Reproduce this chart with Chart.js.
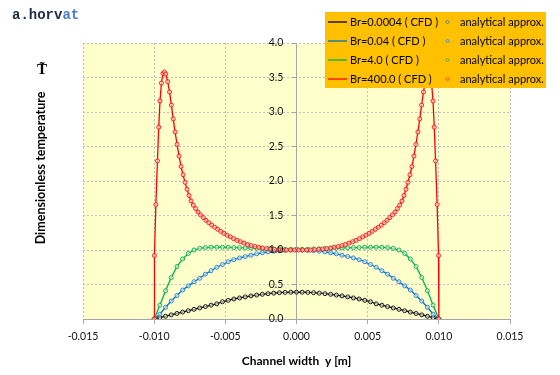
<!DOCTYPE html>
<html>
<head>
<meta charset="utf-8">
<script src="https://cdn.jsdelivr.net/npm/chart.js@4"></script>
<style>
  html, body { margin: 0; padding: 0; background: #fff; }
</style>
</head>
<body>
<canvas id="chart" width="560" height="375"></canvas>
<script>
// channel positions of the analytical points, y [m]
const yPos = [-0.0100, -0.0096, -0.0092, -0.0088, -0.0084, -0.0080, -0.0076, -0.0072, -0.0068, -0.0064,
  -0.0060, -0.0056, -0.0052, -0.0048, -0.0044, -0.0040, -0.0036, -0.0032, -0.0028, -0.0024,
  -0.0020, -0.0016, -0.0012, -0.0008, -0.0004, 0.0000, 0.0004, 0.0008, 0.0012, 0.0016,
  0.0020, 0.0024, 0.0028, 0.0032, 0.0036, 0.0040, 0.0044, 0.0048, 0.0052, 0.0056,
  0.0060, 0.0064, 0.0068, 0.0072, 0.0076, 0.0080, 0.0084, 0.0088, 0.0092, 0.0096, 0.0100];

// Br=400 is sampled finer near the walls
const yPosBr400 = [-0.01000, -0.00998, -0.00988, -0.00977, -0.00968, -0.00959, -0.00949, -0.00938, -0.00928, -0.00918,
  -0.00905, -0.00892, -0.00879, -0.00866, -0.00853, -0.00839, -0.00825, -0.00811, -0.00797, -0.00783,
  -0.00769, -0.00755, -0.00741, -0.00725, -0.00709, -0.00692, -0.00674, -0.00655, -0.00636, -0.00616,
  -0.00596, -0.00575, -0.00554, -0.00532, -0.00510, -0.00488, -0.00465, -0.00442, -0.00418, -0.00394,
  -0.00369, -0.00344, -0.00318, -0.00292, -0.00265, -0.00238, -0.00211, -0.00183, -0.00155, -0.00127,
  -0.00099, -0.00071, -0.00043, -0.00015, 0.00015, 0.00043, 0.00071, 0.00099, 0.00127, 0.00155,
  0.00183, 0.00211, 0.00238, 0.00265, 0.00292, 0.00318, 0.00344, 0.00369, 0.00394, 0.00418,
  0.00442, 0.00465, 0.00488, 0.00510, 0.00532, 0.00554, 0.00575, 0.00596, 0.00616, 0.00636,
  0.00655, 0.00674, 0.00692, 0.00709, 0.00725, 0.00741, 0.00755, 0.00769, 0.00783, 0.00797,
  0.00811, 0.00825, 0.00839, 0.00853, 0.00866, 0.00879, 0.00892, 0.00905, 0.00918, 0.00928,
  0.00938, 0.00949, 0.00959, 0.00968, 0.00977, 0.00988, 0.00998, 0.01000];

// dimensionless temperature
const tBr00004 = [0, 0.02, 0.04, 0.06, 0.08, 0.10, 0.12, 0.14, 0.16, 0.18,
  0.20, 0.22, 0.25, 0.27, 0.29, 0.305, 0.32, 0.335, 0.347, 0.358,
  0.367, 0.375, 0.381, 0.385, 0.388, 0.389, 0.388, 0.385, 0.381, 0.375,
  0.367, 0.358, 0.347, 0.335, 0.32, 0.305, 0.29, 0.27, 0.25, 0.22,
  0.20, 0.18, 0.16, 0.14, 0.12, 0.10, 0.08, 0.06, 0.04, 0.02, 0];

const tBr004 = [0, 0.07, 0.17, 0.26, 0.34, 0.42, 0.48, 0.54, 0.59, 0.65,
  0.70, 0.75, 0.79, 0.83, 0.86, 0.885, 0.905, 0.925, 0.945, 0.96,
  0.973, 0.983, 0.99, 0.995, 0.998, 1.0, 0.998, 0.995, 0.99, 0.983,
  0.973, 0.96, 0.945, 0.925, 0.905, 0.885, 0.86, 0.83, 0.79, 0.75,
  0.70, 0.65, 0.59, 0.54, 0.48, 0.42, 0.34, 0.26, 0.17, 0.07, 0];

const tBr4 = [0, 0.20, 0.41, 0.60, 0.76, 0.87, 0.95, 1.00, 1.025, 1.035,
  1.04, 1.04, 1.04, 1.04, 1.035, 1.035, 1.03, 1.03, 1.025, 1.02,
  1.02, 1.015, 1.015, 1.01, 1.01, 1.01, 1.01, 1.01, 1.015, 1.015,
  1.02, 1.02, 1.025, 1.03, 1.03, 1.035, 1.035, 1.04, 1.04, 1.04,
  1.04, 1.035, 1.025, 1.00, 0.95, 0.87, 0.76, 0.60, 0.41, 0.20, 0];

const tBr400 = [0, 0.92, 1.66, 2.29, 2.78, 3.16, 3.42, 3.56, 3.58, 3.55,
  3.44, 3.29, 3.10, 2.90, 2.71, 2.53, 2.36, 2.21, 2.09, 1.98,
  1.88, 1.79, 1.71, 1.65, 1.60, 1.55, 1.51, 1.47, 1.43, 1.395,
  1.36, 1.33, 1.30, 1.27, 1.24, 1.215, 1.19, 1.165, 1.14, 1.12,
  1.10, 1.08, 1.065, 1.05, 1.04, 1.03, 1.02, 1.015, 1.01, 1.005,
  1.0, 1.0, 1.0, 1.0, 1.0, 1.0, 1.0, 1.0, 1.005, 1.01,
  1.015, 1.02, 1.03, 1.04, 1.05, 1.065, 1.08, 1.10, 1.12, 1.14,
  1.165, 1.19, 1.215, 1.24, 1.27, 1.30, 1.33, 1.36, 1.395, 1.43,
  1.47, 1.51, 1.55, 1.60, 1.65, 1.71, 1.79, 1.88, 1.98, 2.09,
  2.21, 2.36, 2.53, 2.71, 2.90, 3.10, 3.29, 3.44, 3.55, 3.58,
  3.56, 3.42, 3.16, 2.78, 2.29, 1.66, 0.92, 0];

const seriesLabels = ["Br=0.0004 ( CFD )", "Br=0.04 ( CFD )", "Br=4.0 ( CFD )", "Br=400.0 ( CFD )"];
const approxLabel = "analytical approx.";
const xTickLabels = ["-0.015", "-0.010", "-0.005", "0.000", "0.005", "0.010", "0.015"];

const lineColors = ["#000000", "#0070C0", "#00B050", "#FF0000"];
const markColors = ["#1a1a1a", "#2E86D6", "#1DB152", "#FF1a1a"];
const legendMarkColors = ["#7f7f7f", "#4F8FD0", "#6AAE3A", "#FF5A1F"];

const toPoints = (xs, ts) => xs.map((x, i) => ({ x: x, y: ts[i] }));
const seriesData = [
  toPoints(yPos, tBr00004),
  toPoints(yPos, tBr004),
  toPoints(yPos, tBr4),
  toPoints(yPosBr400, tBr400)
];

const datasets = [];
seriesData.forEach((pts, i) => {
  datasets.push({
    label: seriesLabels[i],
    data: pts,
    showLine: true,
    borderColor: lineColors[i],
    borderWidth: 1.3,
    pointRadius: 0,
    order: 7 - i * 2
  });
  datasets.push({
    label: approxLabel,
    data: pts,
    showLine: false,
    pointRadius: 2,
    pointBorderWidth: 1,
    pointBorderColor: markColors[i],
    pointBackgroundColor: "rgba(255,255,240,0.6)",
    order: 6 - i * 2
  });
});

const decor = {
  id: "decor",
  beforeDraw(chart) {
    const { ctx, chartArea: a } = chart;
    ctx.save();
    ctx.fillStyle = "#fff";
    ctx.fillRect(0, 0, chart.width, chart.height);
    ctx.fillStyle = "#FFFFCC";
    ctx.fillRect(a.left, a.top, a.right - a.left, a.bottom - a.top);
    ctx.restore();
  },
  afterDraw(chart) {
    const ctx = chart.ctx;
    ctx.save();
    // signature
    ctx.font = "bold 14px 'Liberation Mono'";
    ctx.textBaseline = "alphabetic";
    ctx.textAlign = "left";
    ctx.fillStyle = "#1F2A44";
    ctx.fillText("a.horv", 12, 19);
    ctx.fillStyle = "#4A7EC7";
    ctx.fillText("at", 12 + ctx.measureText("a.horv").width, 19);

    // y axis title
    ctx.save();
    ctx.translate(41, 168);
    ctx.rotate(-Math.PI / 2);
    ctx.font = "bold 12.5px Lato";
    ctx.fillStyle = "#000";
    ctx.textAlign = "center";
    ctx.textBaseline = "middle";
    ctx.fillText("Dimensionless temperature", 0, 0);
    ctx.restore();
    ctx.font = "bold 15px 'Liberation Serif'";
    ctx.textAlign = "center";
    ctx.textBaseline = "middle";
    ctx.fillStyle = "#000";
    ctx.fillText("T\u0303", 42, 70);

    // legend
    ctx.fillStyle = "#FFC000";
    ctx.fillRect(325, 12, 221, 76);
    ctx.font = "11px Lato";
    ctx.textAlign = "left";
    ctx.textBaseline = "middle";
    for (let i = 0; i < 4; i++) {
      const y = 22 + i * 19;
      ctx.strokeStyle = lineColors[i];
      ctx.lineWidth = 1.3;
      ctx.beginPath();
      ctx.moveTo(328, y);
      ctx.lineTo(347, y);
      ctx.stroke();
      ctx.fillStyle = "#000";
      ctx.fillText(seriesLabels[i], 350, y);
      ctx.strokeStyle = legendMarkColors[i];
      ctx.lineWidth = 1;
      ctx.beginPath();
      ctx.arc(447.5, y, 1.5, 0, Math.PI * 2);
      ctx.stroke();
      ctx.fillStyle = "#000";
      ctx.fillText(approxLabel, 460, y);
    }
    ctx.restore();
  }
};

const tickFont = { family: "Lato", size: 10.5 };

new Chart(document.getElementById("chart"), {
  type: "scatter",
  data: { datasets: datasets },
  options: {
    responsive: false,
    animation: false,
    devicePixelRatio: 1,
    layout: { padding: { left: 83, right: 50, top: 43, bottom: 0 } },
    plugins: { legend: { display: false }, tooltip: { enabled: false } },
    scales: {
      x: {
        type: "linear",
        min: -0.015,
        max: 0.015,
        ticks: {
          stepSize: 0.005,
          autoSkip: false,
          maxRotation: 0,
          padding: 6,
          font: tickFont,
          color: "#111",
          callback: (v, i) => xTickLabels[i]
        },
        grid: { color: "#BFBFBF", lineWidth: 1, tickLength: 5, tickColor: "#A6A6A6", tickBorderDash: [] },
        border: { color: "#A6A6A6", dash: [2, 2] },
        title: {
          display: true,
          text: "Channel width  y [m]",
          font: { family: "Lato", size: 12, weight: "bold" },
          color: "#000",
          padding: { top: 5, bottom: 7 }
        }
      },
      y: {
        type: "linear",
        position: { x: 0 },
        min: 0,
        max: 4,
        ticks: {
          stepSize: 0.5,
          autoSkip: false,
          z: 1,
          font: tickFont,
          color: "#111",
          callback: v => v.toFixed(1) + "\u2002\u2002 "
        },
        grid: { color: "#BFBFBF", lineWidth: 1, tickLength: 4, tickColor: "#A6A6A6", tickBorderDash: [] },
        border: { color: "#A6A6A6", dash: [2, 2] }
      }
    }
  },
  plugins: [decor]
});
</script>
</body>
</html>
